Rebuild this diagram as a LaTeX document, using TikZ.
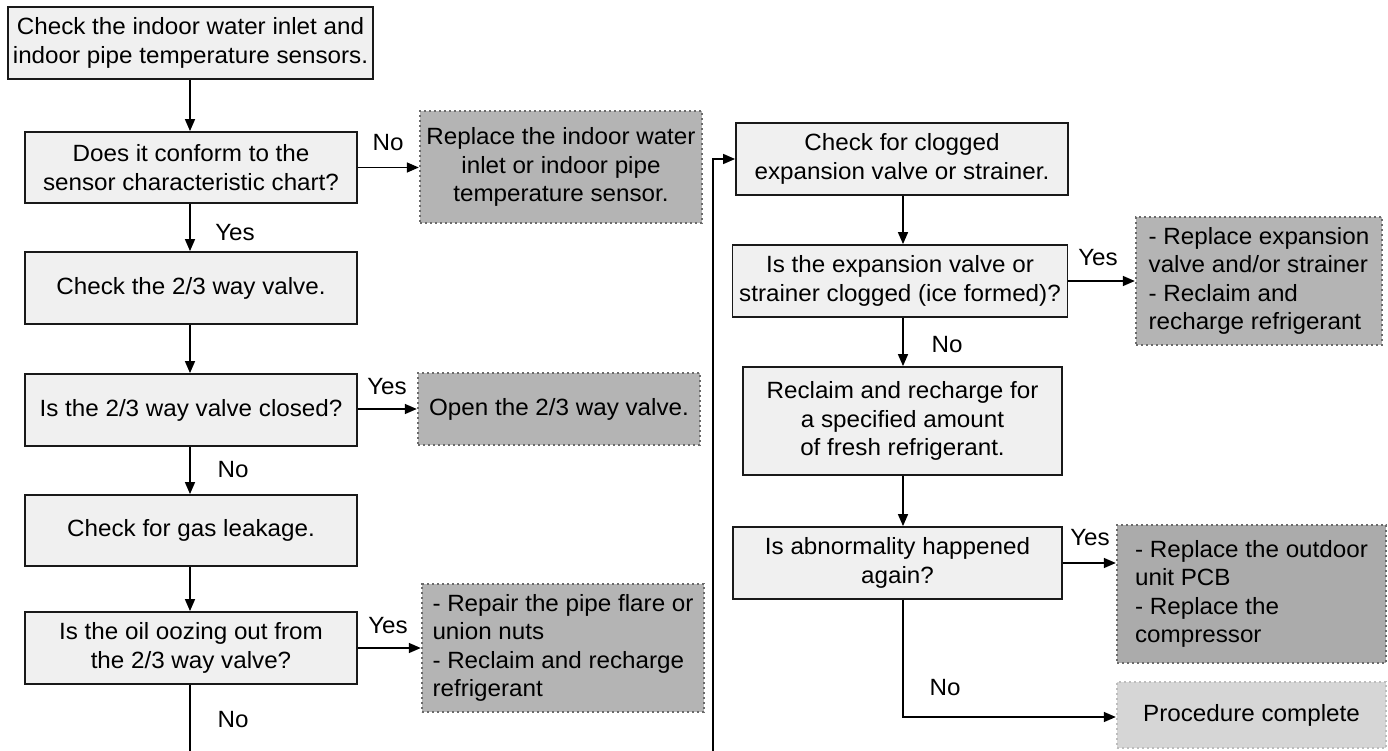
\documentclass[tikz,border=0pt]{standalone}
\usepackage{fontspec}
\setmainfont{Liberation Sans}[FakeStretch=1.03]
\usetikzlibrary{arrows.meta}
\definecolor{boxfill}{HTML}{F0F0F0}
\definecolor{darkfill}{HTML}{B4B4B4}
\definecolor{darkerfill}{HTML}{ABABAB}
\definecolor{endfill}{HTML}{D6D6D6}
\definecolor{dotcol}{HTML}{6A6A6A}
\definecolor{enddot}{HTML}{BDBDBD}
\tikzset{
  stepbox/.style={draw=black!90, line width=1.8pt, fill=boxfill, inner sep=0pt, align=center},
  actbox/.style={draw=dotcol, line width=2.4pt, dash pattern=on 2.4pt off 2.6pt, fill=darkfill, inner sep=0pt},
  endbox/.style={draw=enddot, line width=2.4pt, dash pattern=on 2.4pt off 2.6pt, fill=endfill, inner sep=0pt, align=center},
  conn/.style={line width=1.5pt, -{Triangle[length=12pt,width=10pt]}},
  plain/.style={line width=1.5pt},
  lbl/.style={inner sep=0pt},
}
\begin{document}
\begin{tikzpicture}[x=1pt,y=-1pt, font=\fontsize{23.5}{28.5}\selectfont]
\useasboundingbox (0,0) rectangle (1388,751);
% left column
\node[stepbox, minimum width=365pt, minimum height=72pt] (b1) at (190.5,43) {Check the indoor water inlet and\\indoor pipe temperature sensors.};
\node[stepbox, minimum width=332pt, minimum height=71pt] (b2) at (191,167.5) {Does it conform to the\\sensor characteristic chart?};
\node[stepbox, minimum width=332pt, minimum height=72pt] (b3) at (191,288) {Check the 2/3 way valve.};
\node[stepbox, minimum width=332pt, minimum height=72pt] (b4) at (191,410) {Is the 2/3 way valve closed?};
\node[stepbox, minimum width=332pt, minimum height=71pt] (b5) at (191,530.5) {Check for gas leakage.};
\node[stepbox, minimum width=332pt, minimum height=72pt] (b6) at (191,648) {Is the oil oozing out from\\the 2/3 way valve?};
\node[actbox, align=center, minimum width=282pt, minimum height=112pt] (n1) at (561,167) {Replace the indoor water\\inlet or indoor pipe\\temperature sensor.};
\node[actbox, align=center, minimum width=282pt, minimum height=72pt] (n2) at (559,409) {Open the 2/3 way valve.};
\node[actbox, align=left, minimum width=282pt, minimum height=128pt] (n3) at (563,648) {- Repair the pipe flare or\\union nuts\\- Reclaim and recharge\\refrigerant};
% right column
\node[stepbox, minimum width=332pt, minimum height=72pt] (r1) at (902,159) {Check for clogged\\expansion valve or strainer.};
\node[stepbox, minimum width=335pt, minimum height=72pt] (r2) at (900,281) {Is the expansion valve or\\strainer clogged (ice formed)?};
\node[stepbox, minimum width=319pt, minimum height=108pt] (r3) at (902.5,421) {Reclaim and recharge for\\a specified amount\\of fresh refrigerant.};
\node[stepbox, minimum width=329pt, minimum height=72pt] (r4) at (897.5,563) {Is abnormality happened\\again?};
\node[actbox, align=left, minimum width=246pt, minimum height=128pt] (m1) at (1259,281) {- Replace expansion\\valve and/or strainer\\- Reclaim and\\recharge refrigerant};
\node[actbox, fill=darkerfill, align=left, minimum width=269pt, minimum height=138pt] (m2) at (1251.5,594) {- Replace the outdoor\\unit PCB\\- Replace the\\compressor};
\node[endbox, minimum width=269pt, minimum height=66pt] (m3) at (1251.5,715) {Procedure complete};
% coordinates
\coordinate (lend) at (190,751);
\coordinate (rstart) at (713,751);
\coordinate (rturn) at (713,159);
\coordinate (r4turn) at (903,717);
% connectors
\draw[conn] (b1.south -| 190,0) -- (b2.north -| 190,0);
\draw[conn] (b2.south -| 190,0) -- (b3.north -| 190,0);
\draw[conn] (b3.south -| 190,0) -- (b4.north -| 190,0);
\draw[conn] (b4.south -| 190,0) -- (b5.north -| 190,0);
\draw[conn] (b5.south -| 190,0) -- (b6.north -| 190,0);
\draw[plain] (b6.south -| 190,0) -- (lend);
\draw[conn] (b2.east) -- (n1.west |- b2.east);
\draw[conn] (b4.east |- n2.west) -- (n2.west);
\draw[conn] (b6.east) -- (n3.west |- b6.east);
\draw[conn] (rstart) -- (rturn) -- (r1.west);
\draw[conn] (r1.south -| 903,0) -- (r2.north -| 903,0);
\draw[conn] (r2.south -| 903,0) -- (r3.north -| 903,0);
\draw[conn] (r3.south -| 903,0) -- (r4.north -| 903,0);
\draw[conn] (r2.east) -- (m1.west |- r2.east);
\draw[conn] (r4.east) -- (m2.west |- r4.east);
\draw[conn] (r4.south -| 903,0) -- (r4turn) -- (m3.west |- r4turn);
% labels
\node[lbl] (l1) at (388,143) {No};
\node[lbl] (l2) at (235,233) {Yes};
\node[lbl] (l3) at (387,387) {Yes};
\node[lbl] (l4) at (233,470) {No};
\node[lbl] (l5) at (388,626) {Yes};
\node[lbl] (l6) at (233,720) {No};
\node[lbl] (l7) at (1098,258) {Yes};
\node[lbl] (l8) at (947,345) {No};
\node[lbl] (l9) at (1090,538) {Yes};
\node[lbl] (l10) at (945,688) {No};
\end{tikzpicture}
\end{document}
